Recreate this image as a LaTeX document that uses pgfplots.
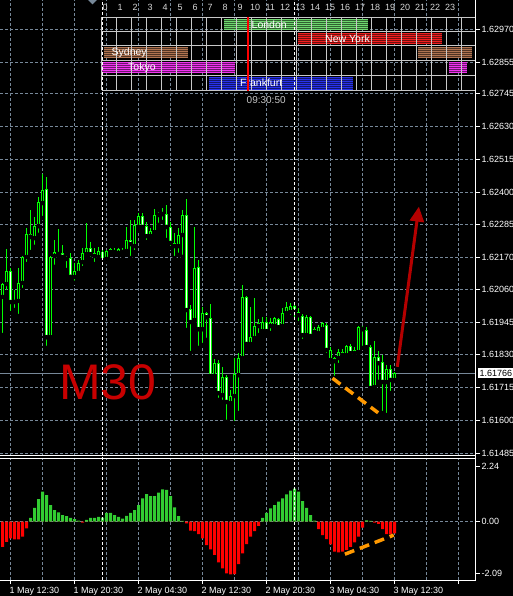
\documentclass[border=0pt]{standalone}
\usepackage{pgfplots}
\pgfplotsset{compat=1.18}
\usepackage{pgfplotstable}
\usepackage{fontspec}
\setmainfont{Liberation Sans}
\usetikzlibrary{arrows.meta}

\definecolor{gridc}{RGB}{119,136,153}
\definecolor{barlime}{RGB}{0,255,0}
\definecolor{aogreen}{RGB}{50,205,50}
\definecolor{aored}{RGB}{255,0,0}
\definecolor{trendorange}{RGB}{255,153,0}
\definecolor{arrowred}{RGB}{180,0,0}
\definecolor{tfred}{RGB}{200,0,0}
\definecolor{tablegray}{RGB}{200,200,200}
\definecolor{hourgray}{RGB}{215,215,215}
\definecolor{londonc}{RGB}{110,215,110}
\definecolor{nyc}{RGB}{240,30,30}
\definecolor{sydneyc}{RGB}{175,115,80}
\definecolor{tokyoc}{RGB}{240,50,240}
\definecolor{frankc}{RGB}{40,50,235}

\newcommand{\ticklbl}{\fontsize{9}{9}\selectfont}
\newcommand{\sesslbl}{\fontsize{10.5}{10.5}\selectfont}

% GBPUSD M30 candles, rising bars (close > open)
\pgfplotstableread{
i o h l c
-2 1.62033 1.62082 1.61899 1.62078
-1 1.62078 1.62201 1.62050 1.62124
2 1.62019 1.62134 1.61966 1.62082
3 1.62082 1.62176 1.62057 1.62173
4 1.62173 1.62274 1.62148 1.62253
6 1.62239 1.62313 1.62208 1.62281
7 1.62281 1.62383 1.62250 1.62365
8 1.62362 1.62463 1.62309 1.62407
10 1.61892 1.62176 1.61882 1.62173
11 1.62176 1.62232 1.62138 1.62190
12 1.62183 1.62271 1.62173 1.62190
16 1.62103 1.62152 1.62082 1.62124
17 1.62117 1.62162 1.62103 1.62152
18 1.62155 1.62204 1.62134 1.62187
19 1.62183 1.62292 1.62173 1.62204
22 1.62173 1.62208 1.62162 1.62194
24 1.62166 1.62197 1.62155 1.62194
25 1.62190 1.62204 1.62183 1.62201
26 1.62190 1.62204 1.62183 1.62197
27 1.62187 1.62204 1.62183 1.62201
28 1.62190 1.62204 1.62176 1.62197
29 1.62194 1.62278 1.62190 1.62232
31 1.62211 1.62302 1.62190 1.62285
32 1.62278 1.62327 1.62271 1.62316
35 1.62246 1.62274 1.62236 1.62264
36 1.62260 1.62341 1.62257 1.62320
37 1.62320 1.62330 1.62285 1.62327
38 1.62323 1.62344 1.62295 1.62330
42 1.62211 1.62274 1.62180 1.62250
43 1.62250 1.62337 1.62173 1.62320
46 1.61952 1.62278 1.61945 1.62134
48 1.61920 1.61998 1.61864 1.61976
51 1.61756 1.61815 1.61749 1.61801
53 1.61689 1.61787 1.61665 1.61752
55 1.61661 1.61707 1.61658 1.61686
56 1.61686 1.61819 1.61591 1.61763
57 1.61759 1.61836 1.61626 1.61819
58 1.61819 1.62075 1.61812 1.62033
60 1.61868 1.61998 1.61857 1.61892
61 1.61889 1.62029 1.61885 1.61931
62 1.61931 1.61955 1.61899 1.61941
63 1.61913 1.61962 1.61906 1.61945
65 1.61931 1.61959 1.61906 1.61945
66 1.61931 1.61962 1.61920 1.61959
68 1.61931 1.61994 1.61927 1.61976
69 1.61976 1.62015 1.61966 1.61998
70 1.61980 1.62012 1.61962 1.62001
74 1.61899 1.61969 1.61892 1.61962
76 1.61910 1.61927 1.61906 1.61920
77 1.61906 1.61934 1.61903 1.61927
78 1.61920 1.61945 1.61910 1.61941
80 1.61812 1.61857 1.61805 1.61847
81 1.61808 1.61822 1.61749 1.61819
82 1.61819 1.61850 1.61794 1.61840
83 1.61829 1.61850 1.61822 1.61840
84 1.61829 1.61864 1.61826 1.61861
86 1.61836 1.61857 1.61829 1.61847
87 1.61840 1.61931 1.61833 1.61927
91 1.61717 1.61878 1.61714 1.61822
94 1.61735 1.61794 1.61619 1.61780
96 1.61742 1.61770 1.61738 1.61766
}\bullbars

% falling bars (close < open)
\pgfplotstableread{
i o h l c
0 1.62124 1.62134 1.61976 1.62015
1 1.62022 1.62057 1.61987 1.62015
5 1.62253 1.62337 1.62190 1.62243
9 1.62411 1.62453 1.61854 1.61892
13 1.62187 1.62215 1.62169 1.62173
14 1.62173 1.62176 1.62127 1.62166
15 1.62169 1.62187 1.62092 1.62103
20 1.62204 1.62225 1.62166 1.62183
21 1.62187 1.62204 1.62148 1.62176
23 1.62190 1.62204 1.62155 1.62162
30 1.62232 1.62302 1.62169 1.62218
33 1.62316 1.62327 1.62271 1.62278
34 1.62281 1.62295 1.62225 1.62246
39 1.62323 1.62355 1.62232 1.62278
40 1.62278 1.62295 1.62204 1.62222
41 1.62222 1.62257 1.62169 1.62211
44 1.62320 1.62376 1.61917 1.61987
45 1.61991 1.62005 1.61836 1.61945
47 1.62138 1.62162 1.61854 1.61920
49 1.61976 1.61980 1.61882 1.61962
50 1.61959 1.62008 1.61752 1.61756
52 1.61801 1.61812 1.61672 1.61696
54 1.61752 1.61759 1.61595 1.61665
59 1.62033 1.62036 1.61864 1.61868
64 1.61945 1.61962 1.61903 1.61913
67 1.61955 1.61959 1.61924 1.61927
71 1.62001 1.62008 1.61945 1.61983
72 1.61980 1.61994 1.61941 1.61969
73 1.61966 1.61973 1.61878 1.61899
75 1.61962 1.61966 1.61889 1.61896
79 1.61934 1.61941 1.61829 1.61847
85 1.61861 1.61868 1.61829 1.61836
88 1.61927 1.61931 1.61854 1.61920
89 1.61917 1.61927 1.61854 1.61857
90 1.61857 1.61864 1.61700 1.61714
92 1.61822 1.61843 1.61735 1.61801
93 1.61805 1.61829 1.61626 1.61735
95 1.61780 1.61794 1.61696 1.61742
}\bearbars

% Awesome Oscillator
\pgfplotstableread{
i v
-2 -1.01
-1 -0.81
0 -0.67
1 -0.71
2 -0.71
3 -0.60
4 -0.27
5 0.16
6 0.56
7 0.91
8 1.21
9 1.07
10 0.67
11 0.47
12 0.38
13 0.27
14 0.23
15 0.16
16 0.11
17 0.04
18 -0.04
19 0.07
20 0.16
21 0.16
22 0.20
23 0.17
24 0.36
25 0.36
26 0.27
27 0.20
28 0.13
29 0.24
30 0.36
31 0.47
32 0.67
33 0.94
34 1.11
35 1.03
36 1.03
37 1.17
38 1.30
39 1.28
40 1.03
41 0.58
42 0.23
43 0.03
44 -0.07
45 -0.36
46 -0.38
47 -0.50
48 -0.67
49 -0.94
50 -1.11
51 -1.34
52 -1.64
53 -1.88
54 -2.08
55 -2.12
56 -2.11
57 -1.71
58 -1.28
59 -0.90
60 -0.60
61 -0.38
62 -0.17
63 0.16
64 0.36
65 0.54
66 0.67
67 0.81
68 0.94
69 1.10
70 1.25
71 1.34
72 1.21
73 0.83
74 0.56
75 0.27
76 0.04
77 -0.30
78 -0.54
79 -0.70
80 -0.91
81 -1.21
82 -1.24
83 -1.21
84 -1.14
85 -1.01
86 -0.83
87 -0.60
88 -0.24
89 0.05
90 0.03
91 -0.04
92 -0.09
93 -0.30
94 -0.50
95 -0.51
96 -0.47
}\aodata

\pgfplotsset{
  wickplot/.style={only marks, mark=none, forget plot,
    error bars/.cd, y dir=plus, y explicit, error mark=none,
    error bar style={draw=barlime, line width=1pt}},
  bodyplot/.style={only marks, mark=none, forget plot,
    error bars/.cd, y dir=plus, y explicit, error mark=none,
    error bar style={draw=barlime, line width=3pt}},
  coreplot/.style={only marks, mark=none, forget plot,
    error bars/.cd, y dir=plus, y explicit, error mark=none,
    error bar style={draw=#1, line width=1pt, shorten <=0.8pt, shorten >=0.8pt}},
}

\begin{document}
\begin{tikzpicture}[x=1pt,y=1pt]
\fill[black] (0,0) rectangle (513,596);

% price window (bar i sits on pixel column 10+4i)
\begin{axis}[
  at={(0pt,140pt)}, anchor=south west, scale only axis,
  width=476pt, height=456pt,
  xmin=-2.625, xmax=116.375, ymin=1.614756, ymax=1.630727,
  axis line style={draw=none},
  clip mode=individual,
  xtick={0,8,...,112}, xticklabels={}, x tick style={draw=none},
  ytick pos=right, yticklabel pos=right,
  ytick={1.61485,1.61600,1.61715,1.61830,1.61945,1.62060,1.62170,1.62285,1.62400,1.62515,1.62630,1.62745,1.62855,1.62970},
  yticklabels={1.61485,1.61600,1.61715,1.61830,1.61945,1.62060,1.62170,1.62285,1.62400,1.62515,1.62630,1.62745,1.62855,1.62970},
  tick align=outside, major tick length=4pt,
  y tick style={white, line width=0.8pt},
  yticklabel style={text=white, font=\ticklbl, anchor=west, inner sep=0pt, xshift=1.5pt},
  grid=major, grid style={gridc, line width=0.9pt, dash pattern=on 3pt off 2pt},
]
% bid line
\addplot[gridc, line width=0.9pt, forget plot] coordinates {(-2.625,1.61766) (116.375,1.61766)};
% wicks
\addplot[wickplot] table[x=i, y=l, y error expr=\thisrow{h}-\thisrow{l}] {\bullbars};
\addplot[wickplot] table[x=i, y=l, y error expr=\thisrow{h}-\thisrow{l}] {\bearbars};
% bodies
\addplot[bodyplot] table[x=i, y=o, y error expr=\thisrow{c}-\thisrow{o}] {\bullbars};
\addplot[bodyplot] table[x=i, y=c, y error expr=\thisrow{o}-\thisrow{c}] {\bearbars};
\addplot[coreplot=black] table[x=i, y=o, y error expr=\thisrow{c}-\thisrow{o}] {\bullbars};
\addplot[coreplot=white] table[x=i, y=c, y error expr=\thisrow{o}-\thisrow{c}] {\bearbars};
% trend line and projection
\addplot[trendorange, line width=3.5pt, dash pattern=on 10pt off 6pt, forget plot] coordinates {(80.5,1.61748) (91.9,1.61627)};
\addplot[arrowred, line width=3pt, -{Triangle[width=14pt,length=15pt]}, forget plot] coordinates {(96.7,1.61788) (102.1,1.62349)};
\node[anchor=west, fill=white, text=black, font=\ticklbl, inner xsep=1.6pt, inner ysep=1.8pt, xshift=1.7pt] at (axis cs:116.375,1.61766) {1.61766};
\end{axis}

% oscillator window
\begin{axis}[
  at={(0pt,16pt)}, anchor=south west, scale only axis,
  width=476pt, height=121.5pt,
  xmin=-2.625, xmax=116.375, ymin=-2.35, ymax=2.55,
  axis line style={draw=none},
  xtick pos=bottom, ytick pos=right, yticklabel pos=right,
  xtick={0,16,...,112},
  xticklabels={1 May 12:30,1 May 20:30,2 May 04:30,2 May 12:30,2 May 20:30,3 May 04:30,3 May 12:30,{}},
  minor xtick={8,24,...,112},
  ytick={0}, yticklabels={0.00},
  extra y ticks={-2.09,2.24}, extra y tick labels={-2.09,2.24},
  extra y tick style={grid=none},
  tick align=outside, major tick length=4pt, minor tick length=0pt,
  tick style={white, line width=0.8pt},
  xticklabel style={text=white, font=\ticklbl, anchor=north west, inner sep=0pt, xshift=-1pt, yshift=-3.5pt},
  yticklabel style={text=white, font=\ticklbl, anchor=west, inner sep=0pt, xshift=1.5pt},
  xmajorgrids, xminorgrids, ymajorgrids,
  grid style={gridc, line width=0.9pt, dash pattern=on 3pt off 2pt},
  minor grid style={gridc, line width=0.9pt, dash pattern=on 3pt off 2pt},
]
\addplot[ybar, bar width=3pt, bar shift=0pt, fill=aogreen, draw=none] table[x=i, y expr={max(\thisrow{v},0)}] {\aodata};
\addplot[ybar, bar width=3pt, bar shift=0pt, fill=aored, draw=none] table[x=i, y expr={min(\thisrow{v},0)}] {\aodata};
\addplot[trendorange, line width=3.5pt, dash pattern=on 10pt off 6pt] coordinates {(83.6,-1.31) (95.8,-0.54)};
\end{axis}

% trading sessions panel
\fill[londonc!45!black] (224,577) rectangle (367.7,566);
\fill[nyc!45!black] (297.7,563) rectangle (442.3,552);
\fill[sydneyc!45!black] (104,549) rectangle (188.3,538);
\fill[sydneyc!45!black] (417.7,549) rectangle (471.7,538);
\fill[tokyoc!45!black] (101.5,534) rectangle (235,523);
\fill[tokyoc!45!black] (449,534) rectangle (467.3,523);
\fill[frankc!45!black] (209.3,519) rectangle (353.3,506);
\foreach \s in {576.5,574.5,572.5,570.5,568.5,566.5} \draw[londonc, line width=1pt] (224,\s) -- (367.7,\s);
\foreach \s in {562.5,560.5,558.5,556.5,554.5,552.5} \draw[nyc, line width=1pt] (297.7,\s) -- (442.3,\s);
\foreach \s in {548.5,546.5,544.5,542.5,540.5,538.5} {
  \draw[sydneyc, line width=1pt] (104,\s) -- (188.3,\s);
  \draw[sydneyc, line width=1pt] (417.7,\s) -- (471.7,\s);}
\foreach \s in {533.5,531.5,529.5,527.5,525.5,523.5} {
  \draw[tokyoc, line width=1pt] (101.5,\s) -- (235,\s);
  \draw[tokyoc, line width=1pt] (449,\s) -- (467.3,\s);}
\foreach \s in {518.5,516.5,514.5,512.5,510.5,508.5,506.5} \draw[frankc, line width=1pt] (209.3,\s) -- (353.3,\s);
\foreach \h in {0,...,24} \draw[tablegray, line width=0.9pt] ({101.5+15*\h},578.5) -- ({101.5+15*\h},505.5);
\foreach \r in {578.5,564.5,550.5,535.5,520.5,505.5} \draw[tablegray, line width=0.9pt] (101.5,\r) -- (476,\r);
\foreach \h in {0,...,23} \node[text=hourgray, font=\ticklbl, inner sep=0pt] at ({105.2+15*\h},589) {\h};
\node[anchor=west, text=white, font=\sesslbl, inner sep=0pt] at (251.5,571.5) {London};
\node[anchor=west, text=white, font=\sesslbl, inner sep=0pt] at (325,557) {New York};
\node[anchor=west, text=white, font=\sesslbl, inner sep=0pt] at (111.5,543.7) {Sydney};
\node[anchor=west, text=white, font=\sesslbl, inner sep=0pt] at (128,528.7) {Tokyo};
\node[anchor=west, text=white, font=\sesslbl, inner sep=0pt] at (240,513.3) {Frankfurt};
\draw[red, line width=2pt] (248,579) -- (248,505);
\node[anchor=west, text=hourgray!80!gray, font=\fontsize{10}{10}\selectfont, inner sep=0pt] at (246.5,496) {09:30:50};

% timeframe caption
\node[anchor=base west, inner sep=0pt, text=tfred, font=\fontsize{50}{50}\selectfont] at (59,196) {M30};

% chart shift marker
\fill[gridc] (88,596) -- (97,596) -- (92.5,591.5) -- cycle;

% day separators
\draw[white, line width=0.9pt, dash pattern=on 3pt off 2pt] (102.5,16) -- (102.5,596);
\draw[white, line width=0.9pt, dash pattern=on 3pt off 2pt] (294.5,16) -- (294.5,596);

% window borders
\draw[white, line width=0.9pt] (0,140.5) -- (476,140.5);
\draw[white, line width=0.9pt] (0,137.5) -- (476,137.5);
\draw[white, line width=0.9pt] (0,15.5) -- (476,15.5);
\draw[white, line width=0.9pt] (475.5,15.5) -- (475.5,596);

\pgfresetboundingbox
\useasboundingbox (0,0) rectangle (513,596);
\end{tikzpicture}
\end{document}
